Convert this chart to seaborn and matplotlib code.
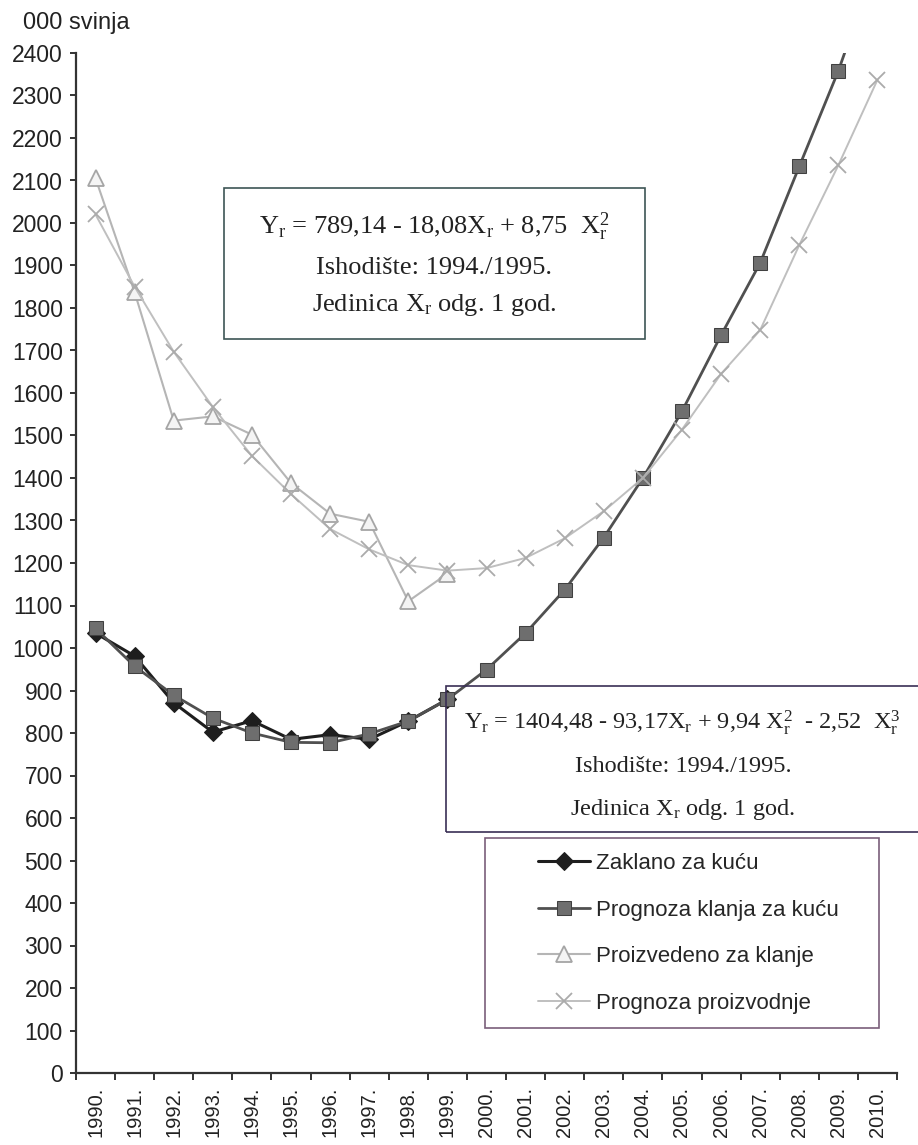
import numpy as np
import matplotlib
matplotlib.use("Agg")
import matplotlib.pyplot as plt
from matplotlib.patches import Rectangle
import seaborn as sns

years = [str(y) + "." for y in range(1990, 2011)]

zaklano = [1035, 981, 871, 802, 829, 785, 796, 785, 828, 879]
prognoza_klanja = [1046, 957, 889, 835, 800, 778, 777, 798, 828, 879, 949,
                   1035, 1137, 1260, 1400, 1557, 1736, 1906, 2133, 2358, 2620]
proizvedeno = [2105, 1837, 1535, 1545, 1502, 1388, 1316, 1297, 1110, 1175]
prognoza_proizvodnje = [2020, 1850, 1697, 1567, 1452, 1362, 1280, 1232, 1195, 1182, 1188,
                        1212, 1258, 1322, 1400, 1514, 1645, 1748, 1948, 2136, 2337]

labels = ["Zaklano za kuću", "Prognoza klanja za kuću",
          "Proizvedeno za klanje", "Prognoza proizvodnje"]

sns.set_style("ticks")
plt.rcParams["font.family"] = ["Liberation Sans", "DejaVu Sans"]

W, H = 918, 1145
fig = plt.figure(figsize=(W / 100, H / 100), dpi=100)
ax = fig.add_axes([76 / W, 1 - 1073 / H, (897 - 76) / W, (1073 - 53) / H])

x_all = np.arange(len(years))

sns.lineplot(x=x_all[:len(zaklano)], y=zaklano, ax=ax, color="#1e1e1e", linewidth=2.2,
             marker="D", markersize=9, markerfacecolor="#1e1e1e", markeredgecolor="#1e1e1e",
             label=labels[0])
sns.lineplot(x=x_all, y=prognoza_klanja, ax=ax, color="#505050", linewidth=2,
             marker="s", markersize=10, markerfacecolor="#6e6e6e", markeredgecolor="#404040",
             label=labels[1])
sns.lineplot(x=x_all[:len(proizvedeno)], y=proizvedeno, ax=ax, color="#b5b5b5", linewidth=1.5,
             marker="^", markersize=11, markerfacecolor="#f4f4f4", markeredgecolor="#a5a5a5",
             markeredgewidth=1.3, label=labels[2])
sns.lineplot(x=x_all, y=prognoza_proizvodnje, ax=ax, color="#bfbfbf", linewidth=1.4,
             marker="x", markersize=11, markeredgecolor="#ababab", markeredgewidth=1.3,
             label=labels[3])

ax.set_xlim(-0.5, len(years) - 0.5)
ax.set_ylim(0, 2400)
ax.set_yticks(np.arange(0, 2401, 100))
ax.tick_params(axis="y", labelsize=16.5, length=4.5, width=1.4, pad=5,
               color="#333333", labelcolor="#222222")

ax.set_xticks(x_all)
ax.set_xticklabels(years, rotation=90, fontsize=14.5, color="#222222")
ax.tick_params(axis="x", which="major", length=0, pad=10)
ax.set_xticks(np.arange(-0.5, len(years), 1), minor=True)
ax.tick_params(axis="x", which="minor", length=5, width=1.4, color="#333333")

sns.despine(ax=ax)
for side in ["left", "bottom"]:
    ax.spines[side].set_linewidth(1.6)
    ax.spines[side].set_color("#333333")
ax.set_xlabel("")
ax.set_ylabel("")

fig.text(23 / W, 1 - 28.5 / H, "000 svinja", fontsize=17, color="#222222",
         ha="left", va="baseline")

# equation boxes
fig.add_artist(Rectangle((224 / W, 1 - 339 / H), (645 - 224) / W, (339 - 188) / H,
                         transform=fig.transFigure, fill=False, ec="#3d5555", lw=1.2))
serif = ["Liberation Serif", "DejaVu Serif"]
fig.text(434 / W, 1 - 227 / H,
         r"$\mathregular{Y_r}$ = 789,14 - 18,08$\mathregular{X_r}$ + 8,75  $\mathregular{X_r^2}$",
         family=serif, fontsize=19, ha="center", va="center", color="#222222")
fig.text(434 / W, 1 - 268 / H, "Ishodište: 1994./1995.", family=serif, fontsize=19,
         ha="center", va="center", color="#222222")
fig.text(434 / W, 1 - 305 / H, r"Jedinica $\mathregular{X_r}$ odg. 1 god.", family=serif,
         fontsize=19, ha="center", va="center", color="#222222")

fig.add_artist(Rectangle((446 / W, 1 - 832 / H), (940 - 446) / W, (832 - 686) / H,
                         transform=fig.transFigure, fill=False, ec="#3a2f55", lw=1.2))
fig.text(682 / W, 1 - 723 / H,
         r"$\mathregular{Y_r}$ = 1404,48 - 93,17$\mathregular{X_r}$ + 9,94 $\mathregular{X_r^2}$"
         r"  - 2,52  $\mathregular{X_r^3}$",
         family=serif, fontsize=17.5, ha="center", va="center", color="#222222")
fig.text(683 / W, 1 - 767 / H, "Ishodište: 1994./1995.", family=serif, fontsize=17.5,
         ha="center", va="center", color="#222222")
fig.text(683 / W, 1 - 810 / H, r"Jedinica $\mathregular{X_r}$ odg. 1 god.", family=serif,
         fontsize=17.5, ha="center", va="center", color="#222222")

# legend
fig.add_artist(Rectangle((485 / W, 1 - 1028 / H), (879 - 485) / W, (1028 - 838) / H,
                         transform=fig.transFigure, fill=False, ec="#7a5f7a", lw=1.2))
ax.legend(frameon=False, loc="upper left", bbox_to_anchor=(538 / W, 1 - 853 / H),
          bbox_transform=fig.transFigure, fontsize=16, handlelength=2.35,
          handletextpad=0.25, labelspacing=1.15, borderpad=0, borderaxespad=0)

fig.savefig("out.png", dpi=100, facecolor="white")
